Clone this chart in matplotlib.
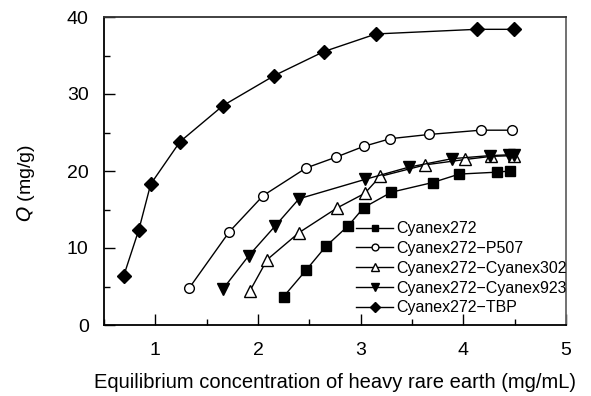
import matplotlib
matplotlib.use("Agg")
import matplotlib.pyplot as plt
import matplotlib.ticker as mticker

plt.rcParams['font.family'] = ['Liberation Sans', 'DejaVu Sans']

# Cyanex272
x_272 = [2.25, 2.47, 2.66, 2.88, 3.03, 3.30, 3.70, 3.96, 4.33, 4.45]
q_272 = [3.7, 7.15, 10.2, 12.9, 15.25, 17.25, 18.5, 19.6, 19.85, 20.0]

# Cyanex272-P507
x_p507 = [1.33, 1.72, 2.05, 2.47, 2.76, 3.03, 3.29, 3.67, 4.17, 4.47]
q_p507 = [4.8, 12.1, 16.8, 20.4, 21.8, 23.2, 24.2, 24.75, 25.3, 25.3]

# Cyanex272-Cyanex302
x_302 = [1.92, 2.09, 2.40, 2.77, 3.04, 3.19, 3.63, 4.02, 4.27, 4.49]
q_302 = [4.4, 8.5, 12.0, 15.2, 17.1, 19.3, 20.8, 21.5, 21.9, 22.0]

# Cyanex272-Cyanex923
x_923 = [1.66, 1.91, 2.17, 2.40, 3.04, 3.47, 3.89, 4.26, 4.44, 4.49]
q_923 = [4.7, 9.0, 12.9, 16.4, 18.9, 20.5, 21.6, 22.0, 22.1, 22.1]

# Cyanex272-TBP
x_tbp = [0.69, 0.84, 0.955, 1.24, 1.66, 2.16, 2.64, 3.15, 4.13, 4.49]
q_tbp = [6.3, 12.4, 18.3, 23.8, 28.5, 32.4, 35.5, 37.8, 38.4, 38.4]

fig = plt.figure(figsize=(5.91, 3.96), dpi=100)
ax = fig.add_axes([104/591, 1 - 325/396, 462/591, 308/396])

ax.plot(x_272, q_272, '-s', color='black', lw=1, ms=6.5, mfc='black', label='Cyanex272')
ax.plot(x_p507, q_p507, '-o', color='black', lw=1, ms=7, mfc='white', label='Cyanex272\u2212P507')
ax.plot(x_302, q_302, '-^', color='black', lw=1, ms=8, mfc='white', label='Cyanex272\u2212Cyanex302')
ax.plot(x_923, q_923, '-v', color='black', lw=1, ms=8, mfc='black', label='Cyanex272\u2212Cyanex923')
ax.plot(x_tbp, q_tbp, '-D', color='black', lw=1, ms=7, mfc='black', label='Cyanex272\u2212TBP')

ax.set_xlim(0.5, 5)
ax.set_ylim(0, 40)
ax.xaxis.set_major_locator(mticker.MultipleLocator(1))
ax.xaxis.set_minor_locator(mticker.MultipleLocator(0.5))
ax.yaxis.set_major_locator(mticker.MultipleLocator(10))
ax.yaxis.set_minor_locator(mticker.MultipleLocator(5))
ax.tick_params(which='both', direction='in', labelsize=14, width=1)
ax.tick_params(which='major', length=8)
ax.tick_params(which='minor', length=4)
ax.tick_params(axis='x', pad=12)
ax.tick_params(axis='y', pad=11)

for s in ax.spines.values():
    s.set_linewidth(1.3)
ax.spines['right'].set_color('#666666')
ax.spines['top'].set_color('#333333')

ax.set_xlabel('Equilibrium concentration of heavy rare earth (mg/mL)', fontsize=14.5)
ax.set_ylabel('$\\it{Q}$ (mg/g)', fontsize=14)
ax.xaxis.set_label_coords(0.5, -0.155)
ax.yaxis.set_label_coords(-0.145, 0.46)

ax.legend(loc='lower right', frameon=False, fontsize=11.5, handlelength=2.3,
          handletextpad=0.2, labelspacing=0.3, borderaxespad=0.2,
          markerscale=0.7, bbox_to_anchor=(1.022, 0.0))

fig.savefig('out.png', dpi=100)
